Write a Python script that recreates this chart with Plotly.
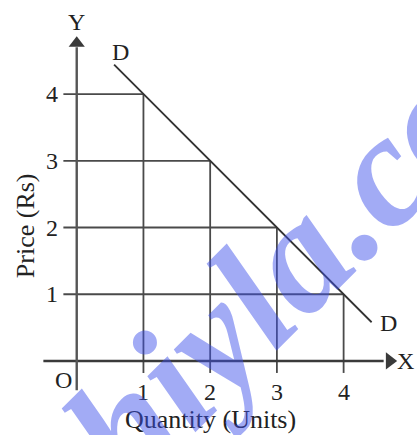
"""Demand schedule diagram: price vs quantity with a straight demand line DD."""
import plotly.graph_objects as go

# demand schedule points
quantity = [1, 2, 3, 4]
price = [4, 3, 2, 1]

# ends of the DD line
demand_x = [0.56, 4.42]
demand_y = [4.44, 0.58]

x_ticks = [1, 2, 3, 4]
y_ticks = [1, 2, 3, 4]

FONT = "Liberation Serif"
INK = "#222"
LINE = "#4a4a4a"

fig = go.Figure()

# guide lines from each axis to the point on DD
for q, p in zip(quantity, price):
    fig.add_trace(go.Scatter(x=[-0.2, q], y=[p, p], mode="lines",
                             line=dict(color=LINE, width=1.8), hoverinfo="skip"))
    fig.add_trace(go.Scatter(x=[q, q], y=[-0.18, p], mode="lines",
                             line=dict(color=LINE, width=1.8), hoverinfo="skip"))

# axes with arrow heads
fig.add_trace(go.Scatter(x=[-0.5, 4.6], y=[0, 0], mode="lines",
                         line=dict(color="#3a3a3a", width=2.4), hoverinfo="skip"))
fig.add_trace(go.Scatter(x=[0, 0], y=[-0.44, 4.7], mode="lines",
                         line=dict(color="#555", width=2.4), hoverinfo="skip"))
fig.add_trace(go.Scatter(x=[4.69], y=[0], mode="markers",
                         marker=dict(symbol="triangle-right", size=15, color="#3a3a3a"),
                         hoverinfo="skip"))
fig.add_trace(go.Scatter(x=[0], y=[4.76], mode="markers",
                         marker=dict(symbol="triangle-up", size=14, color="#3a3a3a"),
                         hoverinfo="skip"))

# demand line
fig.add_trace(go.Scatter(x=demand_x, y=demand_y, mode="lines",
                         line=dict(color="#333", width=1.8), hoverinfo="skip"))

small = dict(family=FONT, size=24, color=INK)
big = dict(family=FONT, size=26, color=INK)
ann = []
for t in x_ticks:
    ann.append(dict(x=t, y=-0.465, text=str(t), font=small))
for t in y_ticks:
    ann.append(dict(x=-0.37, y=t, text=str(t), font=small))
ann += [
    dict(x=0.0, y=5.08, text="Y", font=small),
    dict(x=4.93, y=0.0, text="X", font=small),
    dict(x=0.65, y=4.63, text="D", font=small),
    dict(x=4.68, y=0.57, text="D", font=small),
    dict(x=-0.2, y=-0.28, text="O", font=small),
    dict(x=2.0, y=-0.885, text="Quantity (Units)", font=big),
    dict(x=-0.775, y=2.02, text="Price (Rs)", textangle=-90, font=big),
]
for a in ann:
    a.update(showarrow=False, xref="x", yref="y")
    fig.add_annotation(**a)

# watermark from the source image
fig.add_annotation(
    text="<b><i>hiyla.com</i></b>", xref="paper", yref="paper",
    x=319 / 417, y=1 - 232 / 435, xanchor="center", yanchor="middle",
    textangle=-45, showarrow=False,
    font=dict(family="Liberation Serif", size=160, color="rgba(60,80,235,0.48)"),
)

fig.update_xaxes(range=[-1.15, 5.1], visible=False, fixedrange=True)
fig.update_yaxes(range=[-1.11, 5.41], visible=False, fixedrange=True)
fig.update_layout(
    width=417, height=435, margin=dict(l=0, r=0, t=0, b=0),
    plot_bgcolor="white", paper_bgcolor="white", showlegend=False,
)

fig.write_html("out.html", config={"displayModeBar": False},
               post_script="document.body.style.margin='0';")
